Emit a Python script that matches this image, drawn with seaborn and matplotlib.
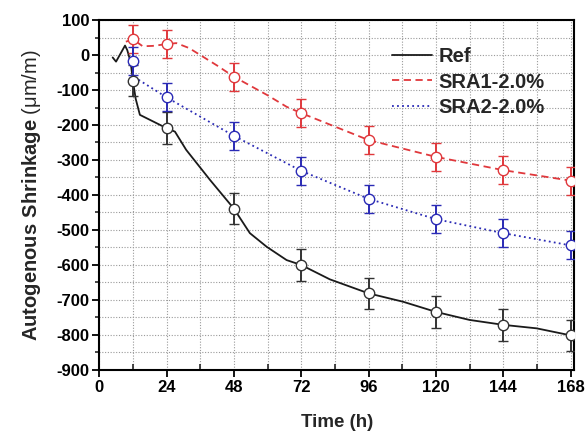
import matplotlib
matplotlib.use("Agg")
import matplotlib.pyplot as plt
import seaborn as sns
import numpy as np
import pandas as pd
from matplotlib.ticker import MultipleLocator

# ---- data ----
marker_hours = [12, 24, 48, 72, 96, 120, 144, 168]
ref_marker = [-73, -209, -439, -600, -681, -734, -771, -801]
sra1_marker = [45, 31, -62, -166, -243, -291, -329, -359]
sra2_marker = [-17, -121, -231, -331, -411, -469, -509, -544]
ref_err = [45, 45, 45, 45, 45, 45, 45, 45]
sra1_err = [40, 40, 40, 40, 40, 40, 40, 40]
sra2_err = [40, 40, 40, 40, 40, 40, 40, 40]

ref_line_h = [4.8, 6.0, 9.2, 10.0, 11.2, 12.0, 13.0, 14.5, 24.0, 27.0, 31.0,
              39.5, 48.0, 53.7, 59.7, 66.8, 72.0, 82.2, 96.0, 108.3, 120.0,
              132.0, 144.0, 155.9, 168.0]
ref_line_v = [-7, -19, 27, 14, -20, -73, -125, -171, -209, -219, -271,
              -357, -439, -509, -548, -586, -600, -641, -681, -705, -734,
              -757, -771, -781, -801]
sra1_line_h = [9.5, 12, 15.5, 19, 24, 27.5, 32, 37, 42, 48, 60, 66.8, 72,
               96, 120, 144, 168]
sra1_line_v = [38, 45, 25, 26, 31, 34, 20, -5, -30, -62, -115, -148, -166,
               -243, -291, -329, -359]
sra2_line_h = [12.5, 24, 36, 48, 72, 96, 120, 144, 168]
sra2_line_v = [-63, -121, -176, -231, -331, -411, -469, -509, -544]

series_names = ["Ref", "SRA1-2.0%", "SRA2-2.0%"]
colors = {"Ref": "#1a1a1a", "SRA1-2.0%": "#e0383c", "SRA2-2.0%": "#2a2ab5"}
dashes = {"Ref": "", "SRA1-2.0%": (4, 2.5), "SRA2-2.0%": (1, 1.8)}

lines_df = pd.concat([
    pd.DataFrame({"t": ref_line_h, "v": ref_line_v, "s": "Ref"}),
    pd.DataFrame({"t": sra1_line_h, "v": sra1_line_v, "s": "SRA1-2.0%"}),
    pd.DataFrame({"t": sra2_line_h, "v": sra2_line_v, "s": "SRA2-2.0%"}),
], ignore_index=True)

sns.set_theme(style="ticks")
plt.rcParams["font.family"] = ["Liberation Sans", "DejaVu Sans"]
plt.rcParams["mathtext.fontset"] = "custom"
plt.rcParams["mathtext.bf"] = "Liberation Sans:bold"
plt.rcParams["mathtext.rm"] = "Liberation Sans"
plt.rcParams["axes.unicode_minus"] = False

fig = plt.figure(figsize=(5.87, 4.34), dpi=100)
ax = fig.add_axes([0.169, 0.1475, 0.8097, 0.8064])

sns.lineplot(data=lines_df, x="t", y="v", hue="s", style="s",
             palette=colors, dashes=dashes, sort=False, estimator=None,
             linewidth=1.3, ax=ax, zorder=3)

for name, vals, err in [("Ref", ref_marker, ref_err),
                        ("SRA1-2.0%", sra1_marker, sra1_err),
                        ("SRA2-2.0%", sra2_marker, sra2_err)]:
    c = colors[name] if name != "Ref" else "#333333"
    ax.errorbar(marker_hours, vals, yerr=err, fmt="o", ms=7.5,
                mfc="white", mec=c, mew=1.0, ecolor=c,
                elinewidth=1.4, capsize=3.5, capthick=1.4, zorder=4)

ax.set_xlim(0, 169.4)
ax.set_ylim(-900, 100)
ax.xaxis.set_major_locator(MultipleLocator(24))
ax.xaxis.set_minor_locator(MultipleLocator(12))
ax.yaxis.set_major_locator(MultipleLocator(100))
ax.yaxis.set_minor_locator(MultipleLocator(50))

ax.grid(which="both", color="#9a9a9a", linestyle=(0, (1, 1.5)), linewidth=0.8)
ax.set_axisbelow(True)
for sp in ax.spines.values():
    sp.set_linewidth(1.5)
    sp.set_color("black")
    sp.set_visible(True)

ax.tick_params(axis="both", which="major", direction="out", length=5, width=1.3,
               labelsize=12, colors="black", pad=2)
ax.tick_params(axis="x", which="minor", direction="in", length=4, width=1.2)
ax.tick_params(axis="y", which="minor", direction="out", length=3, width=1.2)
for lab in ax.get_xticklabels() + ax.get_yticklabels():
    lab.set_fontweight("bold")

ax.set_xlabel("Time (h)", fontsize=13.5, fontweight="bold", labelpad=14)
ax.set_ylabel(r"$\mathbf{Autogenous\ Shrinkage}$ (μm/m)", fontsize=14.5, labelpad=10)

leg = ax.legend(title=None, loc="upper right", bbox_to_anchor=(0.975, 0.975),
                frameon=False, handlelength=2.0, handletextpad=0.3,
                labelspacing=0.33, prop={"weight": "bold", "size": 14.5})

fig.savefig("out.png", dpi=100)
